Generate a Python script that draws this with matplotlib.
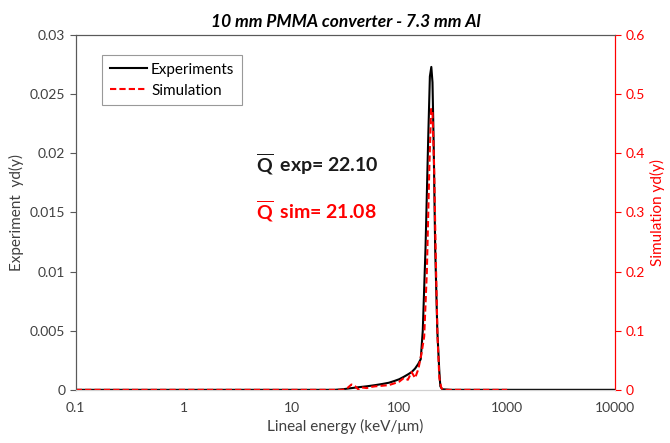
import numpy as np
import matplotlib.pyplot as plt

plt.rcParams['font.family'] = ['Lato', 'DejaVu Sans']
plt.rcParams['mathtext.fontset'] = 'custom'
plt.rcParams['mathtext.bf'] = 'Lato:bold'
plt.rcParams['mathtext.rm'] = 'Lato'

# experiment (left axis)
x_exp = [0.1, 1, 10, 25, 30, 40, 50, 60, 70, 80, 90, 100, 110, 120, 130, 140, 150,
         158, 165, 175, 185, 192, 198, 203, 208, 215, 225, 235, 240, 250, 300, 1000, 10000]
y_exp = [0, 0, 0, 0, 0.00005, 0.0002, 0.0003, 0.0004, 0.0005, 0.0006, 0.00075, 0.0009,
         0.0011, 0.0013, 0.0015, 0.0018, 0.0022, 0.0026, 0.005, 0.012, 0.021, 0.0265,
         0.0273, 0.026, 0.021, 0.012, 0.005, 0.0015, 0.0003, 0.00005, 0, 0, 0]

# simulation (right axis)
x_sim = [0.1, 1, 10, 30, 33, 36, 39, 42, 45, 50, 55, 60, 70, 80, 90, 100, 110, 120,
         130, 140, 150, 160, 170, 180, 190, 197, 203, 210, 218, 226, 235, 245, 255, 300, 1000]
y_sim = [0, 0, 0, 0, 0.003, 0.009, 0.006, 0.0, 0.004, 0.003, 0.005, 0.006, 0.007,
         0.008, 0.011, 0.014, 0.02, 0.017, 0.03, 0.02, 0.035, 0.06, 0.09, 0.2, 0.38,
         0.475, 0.47, 0.38, 0.22, 0.09, 0.02, 0.003, 0, 0, 0]

fig = plt.figure(figsize=(6.7, 4.43), dpi=100)
ax = fig.add_axes([0.113, 0.12, 0.805, 0.801])
ax2 = ax.twinx()

l1, = ax.plot(x_exp, y_exp, color='black', lw=1.5, label='Experiments')
l2, = ax2.plot(x_sim, y_sim, color='red', lw=1.5, ls=(0, (3, 1.5)), label='Simulation')

ax.set_xscale('log')
ax.set_xlim(0.1, 10000)
ax.set_ylim(0, 0.03)
ax2.set_ylim(0, 0.6)
ax.set_xticks([0.1, 1, 10, 100, 1000, 10000])
ax.set_xticklabels(['0.1', '1', '10', '100', '1000', '10000'])
ax.minorticks_off()
ax.set_yticks([0, 0.005, 0.01, 0.015, 0.02, 0.025, 0.03])
ax.set_yticklabels(['0', '0.005', '0.01', '0.015', '0.02', '0.025', '0.03'])
ax2.set_yticks([0, 0.1, 0.2, 0.3, 0.4, 0.5, 0.6])
ax2.set_yticklabels(['0', '0.1', '0.2', '0.3', '0.4', '0.5', '0.6'])

ax.tick_params(axis='x', length=0, labelsize=10, colors='#404040', pad=9)
ax.tick_params(axis='y', length=4, labelsize=10, colors='#595959', labelcolor='#404040')
ax2.tick_params(axis='y', length=4, labelsize=10, colors='red')
ax2.tick_params(axis='x', length=0)

for a in (ax, ax2):
    a.spines['left'].set_color('#595959')
    a.spines['top'].set_color('#595959')
    a.spines['bottom'].set_color('#d0d0d0')
    a.spines['right'].set_color('red')

ax.set_xlabel('Lineal energy (keV/\u03bcm)', fontsize=11, color='#404040', labelpad=3)
ax.set_ylabel('Experiment  yd(y)', fontsize=11, color='#404040')
ax2.set_ylabel('Simulation yd(y)', fontsize=11, color='red')
ax.set_title('10 mm PMMA converter - 7.3 mm Al', fontsize=12.5, fontweight='bold',
             fontstyle='italic', pad=6)

fig.text(0.382, 0.612, r'$\overline{\mathbf{Q}}\,$ exp= 22.10', fontsize=14,
         fontweight='bold', color='#1a1a1a')
fig.text(0.382, 0.505, r'$\overline{\mathbf{Q}}\,$ sim= 21.08', fontsize=14,
         fontweight='bold', color='red')

leg = ax.legend(handles=[l1, l2], loc='upper left', bbox_to_anchor=(0.035, 0.965),
                fontsize=11, frameon=True, fancybox=False, handlelength=2.4,
                handletextpad=0.3, labelspacing=0.45, borderpad=0.5)
leg.get_frame().set_edgecolor('#808080')
leg.get_frame().set_linewidth(0.8)

fig.savefig('out.png', dpi=100)
